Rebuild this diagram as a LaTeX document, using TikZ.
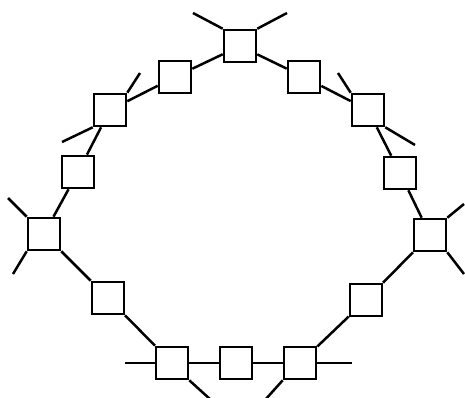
\documentclass[tikz,border=0pt]{standalone}
\usepackage{tikz}

\begin{document}
\begin{tikzpicture}[x=1pt, y=-1pt,
  cell/.style={draw, line width=2.6pt, minimum size=32pt, inner sep=0pt},
  link/.style={line width=2.5pt}]
\useasboundingbox (0,0) rectangle (465,397);
\clip (0,0) rectangle (465,397);
% ring of cells, clockwise from the top
\node[cell] (q0) at (240,46) {};
\node[cell] (q1) at (304,77) {};
\node[cell] (q2) at (368,110) {};
\node[cell] (q3) at (400,173) {};
\node[cell] (q4) at (430,235) {};
\node[cell] (q5) at (366,300) {};
\node[cell] (q6) at (300,363) {};
\node[cell] (q7) at (236,363) {};
\node[cell] (q8) at (172,363) {};
\node[cell] (q9) at (108,298) {};
\node[cell] (q10) at (44,234) {};
\node[cell] (q11) at (78,172) {};
\node[cell] (q12) at (110,110) {};
\node[cell] (q13) at (175,77) {};
\foreach \i/\j in {q0/q1,q1/q2,q2/q3,q3/q4,q4/q5,q5/q6,q6/q7,q7/q8,q8/q9,q9/q10,q10/q11,q11/q12,q12/q13,q13/q0}
  \draw[link] (\i)--(\j);

% loose ends
\coordinate (e0a) at (193,13);
\coordinate (e0b) at (287,13);
\coordinate (e2a) at (338,73);
\coordinate (e2b) at (415,145);
\coordinate (e4a) at (464,204);
\coordinate (e4b) at (464,274);
\coordinate (e6a) at (352,363);
\coordinate (e6b) at (265,400);
\coordinate (e8a) at (125,363);
\coordinate (e8b) at (211,400);
\coordinate (e10a) at (8,198);
\coordinate (e10b) at (13,274);
\coordinate (e12a) at (140,73);
\coordinate (e12b) at (62,142);
\foreach \n/\c in {q0.north west/e0a,q0.north east/e0b,q2.north west/e2a,q2.south east/e2b,
                   q4.north east/e4a,q4.south east/e4b,q6.east/e6a,q6.south west/e6b,
                   q8.west/e8a,q8.south east/e8b,q10.north west/e10a,q10.south west/e10b,
                   q12.north east/e12a,q12.south west/e12b}
  \draw[link] (\n)--(\c);
\end{tikzpicture}
\end{document}
